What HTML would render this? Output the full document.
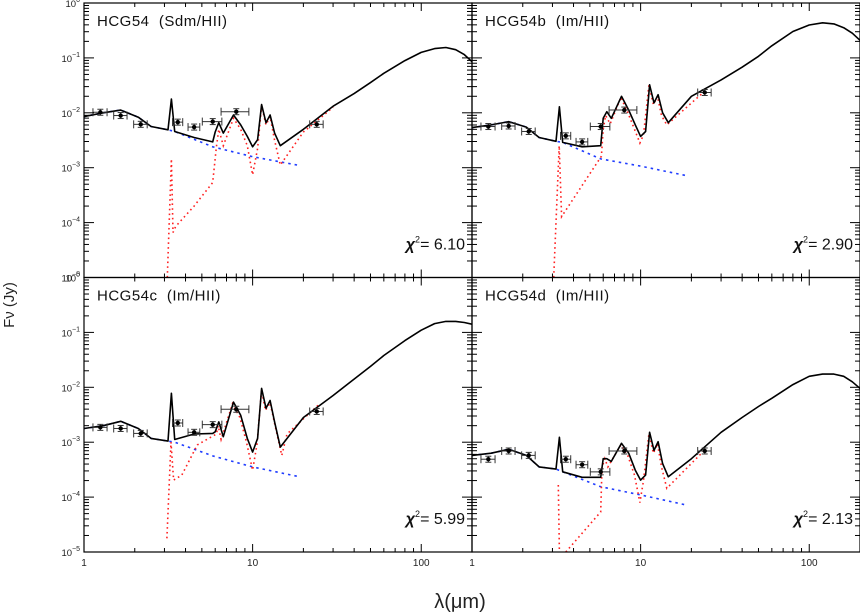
<!DOCTYPE html>
<html><head><meta charset="utf-8"><style>
html,body{margin:0;padding:0;background:#fff;}
svg{display:block;font-family:"Liberation Sans",sans-serif;}
</style></head><body>
<svg id="chart" width="860" height="613" viewBox="0 0 860 613" xmlns="http://www.w3.org/2000/svg">
<text x="14" y="305" font-size="15" text-anchor="middle" fill="#222" transform="rotate(-90 14 305)">Fν (Jy)</text>
<text x="460" y="608" font-size="20" text-anchor="middle" fill="#222">λ(μm)</text>
</svg>
<script>
// shared model wavelength grid (micron)
const lamTot=[1,1.3,1.65,2.1,2.5,3.15,3.3,3.45,4.5,5.8,6.0,6.3,6.7,7.7,8.5,9.3,10,10.7,11.3,12,12.7,13.5,14.6,20,30,40,50,60,80,100,120,140,160,180,200];
// total model log10 flux per panel
const totA=[-2.07,-2.0,-1.95,-2.08,-2.25,-2.31,-1.75,-2.34,-2.45,-2.53,-2.35,-2.18,-2.37,-2.04,-2.22,-2.43,-2.62,-2.49,-1.85,-2.18,-2.04,-2.37,-2.6,-2.3,-1.88,-1.65,-1.45,-1.28,-1.05,-0.9,-0.83,-0.81,-0.85,-0.94,-1.07];
const totB=[-2.27,-2.22,-2.16,-2.26,-2.45,-2.52,-1.89,-2.54,-2.62,-2.6,-2.1,-1.98,-2.1,-1.7,-1.95,-2.22,-2.43,-2.34,-1.49,-1.82,-1.67,-2.0,-2.18,-1.7,-1.4,-1.17,-0.97,-0.78,-0.52,-0.4,-0.36,-0.38,-0.45,-0.55,-0.68];
const totC=[-2.75,-2.7,-2.62,-2.75,-2.93,-2.98,-2.11,-2.95,-2.85,-2.84,-2.81,-2.63,-2.9,-2.27,-2.51,-2.93,-3.18,-2.93,-2.02,-2.38,-2.24,-2.63,-3.09,-2.55,-2.15,-1.85,-1.62,-1.42,-1.15,-0.96,-0.84,-0.8,-0.8,-0.82,-0.85];
const totD=[-3.24,-3.2,-3.13,-3.24,-3.45,-3.49,-2.91,-3.54,-3.64,-3.64,-3.3,-3.3,-3.35,-3.02,-3.2,-3.51,-3.69,-3.6,-2.82,-3.15,-2.99,-3.39,-3.63,-3.3,-2.82,-2.55,-2.35,-2.2,-1.95,-1.8,-1.76,-1.76,-1.8,-1.9,-2.02];
// stellar component
const lamStar=[1,1.3,1.65,2.1,2.5,3.15,3.45,5.8,10,19];
const starA=[-2.07,-2.0,-1.95,-2.08,-2.25,-2.31,-2.34,-2.62,-2.8,-2.96];
const starB=[-2.27,-2.22,-2.16,-2.26,-2.45,-2.52,-2.54,-2.84,-2.97,-3.15];
const starC=[-2.75,-2.7,-2.62,-2.75,-2.93,-2.98,-3.0,-3.25,-3.45,-3.63];
const starD=[-3.24,-3.2,-3.13,-3.24,-3.45,-3.49,-3.54,-3.81,-3.96,-4.15];
// dust component (null = break)
const dustLamA=[3.12,3.3,3.37,3.5,4.5,5.8,6.1,6.3,6.7,7.7,8.5,9.3,10,10.7,11.3,12,12.7,13.5,14.6,20,30];
const dustA=[-5.0,-2.84,-4.18,-4.07,-3.7,-3.27,-2.62,-2.3,-2.6,-2.1,-2.3,-2.6,-3.13,-2.65,-1.87,-2.22,-2.07,-2.5,-2.95,-2.35,-1.9];
const dustLamB=[3.05,3.29,3.4,5.85,6.0,6.2,6.6,7.64,8.4,9.2,9.9,10.4,11.2,11.9,12.6,13.3,14.3,23.5];
const dustB=[-5.0,-2.6,-3.89,-2.79,-2.3,-2.05,-2.2,-1.72,-2.0,-2.3,-2.55,-2.4,-1.5,-1.85,-1.7,-2.05,-2.22,-1.63];
const dustLamC=[3.1,3.28,3.4,3.8,4.7,6.1,6.25,6.5,7.6,8.4,9.2,10,10.6,11.3,11.9,12.7,13.6,14.9,16,25];
const dustC=[-4.75,-3.0,-3.69,-3.6,-3.05,-2.85,-2.7,-2.95,-2.3,-2.55,-3.0,-3.51,-3.05,-2.05,-2.42,-2.28,-2.7,-3.24,-2.85,-2.3];
const dustLamD=[3.25,3.3,null,3.6,5.8,5.9,6.13,6.4,7.64,8.4,9.2,9.9,10.4,11.2,11.9,12.6,13.3,14.3,23.5];
const dustD=[-3.78,-5.0,null,-5.0,-4.27,-3.46,-3.3,-3.45,-3.05,-3.25,-3.6,-4.1,-3.7,-2.85,-3.2,-3.03,-3.45,-3.84,-3.17];
// photometry
const obsLam=[1.25,1.65,2.17,3.6,4.5,5.8,8.0,24];
const obsHalfWidth=[0.12,0.15,0.2,0.25,0.36,0.77,1.5,2.2];
const obsA=[-1.99,-2.05,-2.21,-2.17,-2.26,-2.16,-1.98,-2.21];
const obsB=[-2.25,-2.24,-2.34,-2.42,-2.53,-2.25,-1.95,-1.63];
const obsC=[-2.73,-2.75,-2.84,-2.65,-2.82,-2.68,-2.4,-2.44];
const obsD=[-3.31,-3.16,-3.24,-3.31,-3.41,-3.54,-3.16,-3.16];
const panelLabels=["HCG54  (Sdm/HII)","HCG54b  (Im/HII)","HCG54c  (Im/HII)","HCG54d  (Im/HII)"];
const chiValues=["6.10","2.90","5.99","2.13"];
const yTickExp=[0,-1,-2,-3,-4,-5];
const xTickVals=[1,10,100];

const NS="http://www.w3.org/2000/svg";
const svg=document.getElementById('chart');
const W=388,H=274.5,LMAX=Math.log10(200),LMIN=-5;
const origins=[[84,3],[472,3],[84,277.5],[472,277.5]];
const tots=[totA,totB,totC,totD],stars=[starA,starB,starC,starD];
const dLams=[dustLamA,dustLamB,dustLamC,dustLamD],dusts=[dustA,dustB,dustC,dustD];
const obss=[obsA,obsB,obsC,obsD];
function mk(tag,attrs,parent){const e=document.createElementNS(NS,tag);for(const k in attrs)e.setAttribute(k,attrs[k]);(parent||svg).appendChild(e);return e;}
function pathFrom(lams,vals,xs,ys){let d='',pen=false;for(let i=0;i<lams.length;i++){if(lams[i]===null){pen=false;continue;}d+=(pen?'L':'M')+xs(lams[i]).toFixed(1)+','+ys(vals[i]).toFixed(1);pen=true;}return d;}

for(let p=0;p<4;p++){
  const [x0,y0]=origins[p];
  const xs=l=>x0+Math.log10(l)/LMAX*W;
  const ys=v=>y0+(-v)/(-LMIN)*H;
  const g=mk('g',{});
  
  
  const cid='clip'+p;
  const cp=mk('clipPath',{id:cid},g);mk('rect',{x:x0,y:y0,width:W,height:H},cp);
  const plot=mk('g',{'clip-path':'url(#'+cid+')'},g);
  const blue=mk('path',{d:pathFrom(lamStar,stars[p],xs,ys),fill:'none',stroke:'#1f3cff','stroke-width':1.6,'stroke-dasharray':'2.5,4'},plot);
  
  
  const red=mk('path',{d:pathFrom(dLams[p],dusts[p],xs,ys),fill:'none',stroke:'#ff2020','stroke-width':1.6,'stroke-dasharray':'1.6,3.2'},plot);
  
  
  const blk=mk('path',{d:pathFrom(lamTot,tots[p],xs,ys),fill:'none',stroke:'#000','stroke-width':1.6,'stroke-linejoin':'round'},plot);
  
  
  for(let i=0;i<obsLam.length;i++){
    const og=mk('g',{stroke:'#333','stroke-width':1,fill:'#000'},plot);
    
    
    const cx=xs(obsLam[i]),cy=ys(obss[p][i]);
    const xl=xs(obsLam[i]-obsHalfWidth[i]),xr=xs(obsLam[i]+obsHalfWidth[i]);
    mk('line',{x1:xl,y1:cy,x2:xr,y2:cy},og);
    mk('line',{x1:xl,y1:cy-4,x2:xl,y2:cy+4},og);
    mk('line',{x1:xr,y1:cy-4,x2:xr,y2:cy+4},og);
    mk('line',{x1:cx,y1:cy-3,x2:cx,y2:cy+3},og);
    mk('line',{x1:cx-3,y1:cy-3,x2:cx+3,y2:cy-3},og);
    mk('line',{x1:cx-3,y1:cy+3,x2:cx+3,y2:cy+3},og);
    mk('circle',{cx:cx,cy:cy,r:2.2,stroke:'none'},og);
  }
  mk('rect',{x:x0,y:y0,width:W,height:H,fill:'none',stroke:'#000','stroke-width':1.2},g);
  for(let e=0;e>-5;e--){
    for(let m=1;m<10;m++){
      const yy=ys(e-1+Math.log10(m));
      const len=m===1?10:5;
      mk('line',{x1:x0,y1:yy,x2:x0+len,y2:yy,stroke:'#000','stroke-width':1},g);
      mk('line',{x1:x0+W,y1:yy,x2:x0+W-len,y2:yy,stroke:'#000','stroke-width':1},g);
    }
  }
  for(let e=0;e<3;e++){
    for(let m=1;m<10;m++){
      const v=Math.pow(10,e)*m; if(v>200)break;
      const xx=xs(v),len=m===1?8:4;
      mk('line',{x1:xx,y1:y0+H,x2:xx,y2:y0+H-len,stroke:'#000','stroke-width':1},g);
      mk('line',{x1:xx,y1:y0,x2:xx,y2:y0+len,stroke:'#000','stroke-width':1},g);
    }
  }
  if(p%2===0){
    yTickExp.forEach(e=>{
      const t=mk('text',{x:x0-4,y:ys(e)+4,'font-size':9.5,'text-anchor':'end',fill:'#222'},g);
      
      
      const b=mk('tspan',{},t);b.textContent='10';
      const s=mk('tspan',{'font-size':7,dy:-5},t);
      s.textContent=e===0?'0':'−'+(-e);
    });
  }
  if(p>=2){
    xTickVals.forEach(v=>{
      const t=mk('text',{x:xs(v),y:y0+H+14,'font-size':10,'text-anchor':'middle',fill:'#222'},g);
      
      
      t.textContent=String(v);
    });
  }
  const lab=mk('text',{x:x0+13,y:y0+23,'font-size':15,fill:'#111','letter-spacing':'0.5',style:'white-space:pre'},g);
  
  
  lab.textContent=panelLabels[p];
  const chi=mk('text',{x:x0+W-7,y:y0+H-28,'font-size':16,'text-anchor':'end',fill:'#111'},g);
  
  
  const c1=mk('tspan',{'font-style':'italic','font-weight':'bold'},chi);c1.textContent='χ';
  const c2=mk('tspan',{'font-size':9,dy:-7},chi);c2.textContent='2';
  const c3=mk('tspan',{dy:7},chi);c3.textContent='= '+chiValues[p];
}
</script>
</body></html>
